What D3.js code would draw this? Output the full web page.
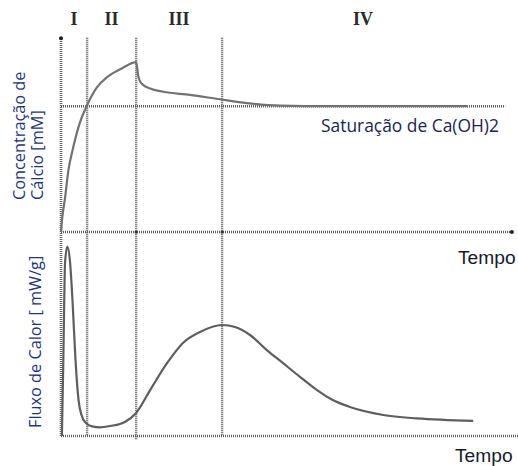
<!DOCTYPE html>
<html>
<head>
<meta charset="utf-8">
<script src="https://cdn.jsdelivr.net/npm/d3@7"></script>
<style>
  html, body { margin: 0; padding: 0; background: #fff; }
  svg { display: block; }
</style>
</head>
<body>
<svg id="chart" width="518" height="466"></svg>
<script>
// Hydration stages and their time boundaries (arbitrary time units)
const phaseLabels = ["I", "II", "III", "IV"];
const phaseBounds = [0, 5.8, 16.7, 35.8, 98.4];

// Calcium concentration in solution (relative to Ca(OH)2 saturation = 1)
const saturationLevel = 1.0;
const calciumTime = [0, 0.3, 0.9, 1.6, 2.7, 4.2, 5.7, 7.9, 10.4, 13.5, 16.7, 17.2, 17.9, 19.8, 22.7, 28.7, 35.3, 41.3, 48.7, 59.8, 75, 90.4];
const calciumConc = [0, 0.12, 0.27, 0.48, 0.67, 0.87, 1.0, 1.145, 1.235, 1.30, 1.35, 1.235, 1.18, 1.14, 1.115, 1.09, 1.055, 1.025, 1.005, 1.0, 1.0, 1.0];

// Heat flow (relative units)
const heatTime = [0.2, 0.5, 0.73, 0.9, 1.4, 2.0, 2.55, 3.22, 3.9, 4.55, 5.55, 6.9, 8.7, 10.9, 14.2, 16.7, 19.8, 23.6, 27.1, 30.9, 35.8, 38.7, 42.0, 45.8, 49.3, 53.1, 56.9, 60.4, 64.2, 71.6, 79.1, 91.6];
const heatFlow = [0, 0.35, 0.68, 0.85, 0.928, 0.855, 0.667, 0.373, 0.176, 0.103, 0.064, 0.047, 0.042, 0.049, 0.069, 0.113, 0.225, 0.358, 0.456, 0.51, 0.544, 0.534, 0.495, 0.42, 0.358, 0.29, 0.225, 0.176, 0.142, 0.103, 0.086, 0.074];

// Text
const calciumLabel = ["Concentração de", "Cálcio [mM]"];
const heatLabel = "Fluxo de Calor [ mW/g]";
const saturationLabel = "Saturação de Ca(OH)2";
const timeLabel = "Tempo";

const svg = d3.select("#chart");

const x = d3.scaleLinear().domain([0, 100]).range([61, 511]);
const yC = d3.scaleLinear().domain([0, 1.55]).range([232, 37]);
const yH = d3.scaleLinear().domain([0, 1]).range([436, 232]);

const gridColor = "#5f5f5f";
const dotted = "1 1";

function dline(x1, y1, x2, y2, w) {
  svg.append("line")
    .attr("x1", x1).attr("y1", y1).attr("x2", x2).attr("y2", y2)
    .attr("stroke", gridColor)
    .attr("stroke-width", w || 2.4)
    .attr("stroke-dasharray", dotted);
}

// Phase boundaries
phaseBounds.slice(1, 4).forEach((b, i) => {
  dline(x(b), yC(1.545), x(b), i === 1 ? yH(-0.02) : yH(0));
});

// Left axis through both panels
dline(x(0), yC(1.55), x(0), yH(0), 2.6);
// Baselines
dline(x(0), yC(0), x(100.2), yC(0), 2.6);
dline(x(0), yH(0), x(101.6), yH(0), 2.6);
// Saturation level
dline(x(0), yC(saturationLevel), x(98.7), yC(saturationLevel), 2.4);

// Junction dots
svg.append("circle").attr("cx", x(0)).attr("cy", yC(1.54)).attr("r", 2).attr("fill", "#222");
svg.append("circle").attr("cx", x(100.2)).attr("cy", yC(0)).attr("r", 2).attr("fill", "#222");
[phaseBounds[2], phaseBounds[3]].forEach(b => {
  svg.append("circle").attr("cx", x(b)).attr("cy", yC(0)).attr("r", 1.6).attr("fill", "#333");
});

// Curves
const calcium = calciumTime.map((t, i) => [t, calciumConc[i]]);
const heat = heatTime.map((t, i) => [t, heatFlow[i]]);

svg.append("path")
  .datum(calcium)
  .attr("fill", "none")
  .attr("stroke", "#727272")
  .attr("stroke-width", 2.2)
  .attr("d", d3.line().x(d => x(d[0])).y(d => yC(d[1])).curve(d3.curveMonotoneX));

svg.append("path")
  .datum(heat)
  .attr("fill", "none")
  .attr("stroke", "#5e5e5e")
  .attr("stroke-width", 2.2)
  .attr("d", d3.line().x(d => x(d[0])).y(d => yH(d[1])).curve(d3.curveMonotoneX));

// Stage numerals
svg.selectAll("text.phase")
  .data(phaseLabels)
  .join("text")
  .attr("class", "phase")
  .attr("x", (d, i) => x((phaseBounds[i] + phaseBounds[i + 1]) / 2))
  .attr("y", 25)
  .attr("text-anchor", "middle")
  .attr("font-family", "'Liberation Serif', 'Times New Roman', serif")
  .attr("font-size", 18)
  .attr("font-weight", "bold")
  .attr("fill", "#2a2a2a")
  .text(d => d);

// Axis titles
const labelFont = "'Open Sans', 'Noto Sans', sans-serif";
const labelColor = "#1f3578";

calciumLabel.forEach((t, i) => {
  svg.append("text")
    .attr("transform", `translate(${25 + i * 18},200) rotate(-90)`)
    .attr("font-family", labelFont)
    .attr("font-size", 16.3)
    .attr("fill", labelColor)
    .text(t);
});

svg.append("text")
  .attr("transform", `translate(41,428) rotate(-90)`)
  .attr("font-family", labelFont)
  .attr("font-size", 16.3)
  .attr("fill", labelColor)
  .text(heatLabel);

svg.append("text")
  .attr("x", 321).attr("y", 132)
  .attr("font-family", labelFont)
  .attr("font-size", 17.4)
  .attr("fill", "#1c2450")
  .text(saturationLabel);

// Time axis titles
[[458, 264], [455, 462]].forEach(p => {
  svg.append("text")
    .attr("x", p[0]).attr("y", p[1])
    .attr("font-family", "'Liberation Sans', Arial, sans-serif")
    .attr("font-size", 19.2)
    .attr("fill", "#1a1a2a")
    .text(timeLabel);
});
</script>
</body>
</html>
